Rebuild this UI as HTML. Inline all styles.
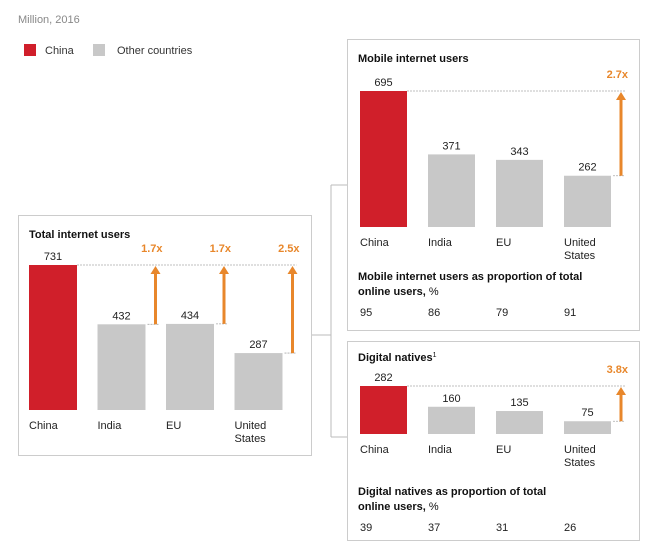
<!DOCTYPE html>
<html><head><meta charset="utf-8">
<style>
html,body{margin:0;padding:0;background:#fff;}
svg{display:block;font-family:"Liberation Sans",Arial,sans-serif;}
</style></head>
<body>
<svg id="c" width="656" height="548" viewBox="0 0 656 548" xmlns="http://www.w3.org/2000/svg">
<text x="18" y="23" font-size="11" fill="#888">Million, 2016</text>
<rect x="24" y="44" width="12" height="12" fill="#d01f2a"/>
<text x="45" y="54" font-size="11" fill="#333">China</text>
<rect x="93" y="44" width="12" height="12" fill="#c8c8c8"/>
<text x="117" y="54" font-size="11" fill="#333">Other countries</text>
<g fill="none" stroke="#bbb" stroke-width="1">
<path d="M311 335 H331 M331 185 V437 M331 185 H347 M331 437 H347"/>
</g>
</svg>
<script>
const categories = ["China","India","EU","United States"];
const totalValues = [731,432,434,287];
const totalMultipliers = ["","1.7x","1.7x","2.5x"];
const mobileValues = [695,371,343,262];
const mobileMultipliers = ["","","","2.7x"];
const mobileShares = [95,86,79,91];
const nativeValues = [282,160,135,75];
const nativeMultipliers = ["","","","3.8x"];
const nativeShares = [39,37,31,26];

const NS="http://www.w3.org/2000/svg";
const svg=document.getElementById('c');
function mk(tag,attrs,parent,text){
  const e=document.createElementNS(NS,tag);
  for(const k in attrs) e.setAttribute(k,attrs[k]);
  if(text!==undefined) e.textContent=text;
  (parent||svg).appendChild(e);
  return e;
}
function panel(o){
  const g=mk('g',{});
  
  
  const box=mk('rect',{x:o.x+0.5,y:o.y+0.5,width:o.w,height:o.h,fill:'#fff',stroke:'#ccc'},g);
  
  
  const t=mk('text',{x:o.x+11,y:o.titleY,'font-size':11,'font-weight':'bold',fill:'#111'},g,o.title);
  
  
  if(o.sup){mk('tspan',{'font-size':7,'font-weight':'normal',dy:-4},t,o.sup);}
  const yScale=v=>o.base-v*o.k;
  const xs=i=>o.x0+i*o.step;
  const arrowX=i=>xs(i)+o.bw+10;
  const maxTop=yScale(o.values[0]);
  const ref=mk('line',{x1:xs(0)+o.bw,x2:arrowX(o.values.length-1)+4,y1:maxTop,y2:maxTop,stroke:'#aaa','stroke-dasharray':'2,1','stroke-width':0.8},g);
  
  
  o.values.forEach((v,i)=>{
    const x=xs(i), top=yScale(v);
    const b=mk('rect',{x:x,y:top,width:o.bw,height:o.base-top,fill:i===0?'#d01f2a':'#c8c8c8'},g);
    
    
    const vl=mk('text',{x:x+o.bw/2,y:top-5,'font-size':11,'text-anchor':'middle',fill:'#222'},g,String(v));
    
    
    categories[i].split(' ').forEach((p,j)=>{
      const cl=mk('text',{x:x,y:o.base+19+j*13,'font-size':11,fill:'#222'},g,p);
      
      
    });
    if(o.mults[i]){
      const ax=arrowX(i);
      const ln=mk('line',{x1:x+o.bw+2,x2:ax+4,y1:top,y2:top,stroke:'#aaa','stroke-dasharray':'2,1','stroke-width':0.8},g);
      
      
      const a=mk('path',{d:`M${ax-1.5} ${top} V${maxTop+9} H${ax-5} L${ax} ${maxTop+1} L${ax+5} ${maxTop+9} H${ax+1.5} V${top} Z`,fill:'#e8872b'},g);
      
      
      const ml=mk('text',{x:ax+7,y:maxTop-13,'font-size':11,'font-weight':'bold','text-anchor':'end',fill:'#e8872b'},g,o.mults[i]);
      
      
    }
  });
  if(o.sub){
    const subs=[];
    o.sub.forEach((s,j)=>{
      const st=mk('text',{x:o.x+11,y:o.subY+j*15,'font-size':11,'font-weight':'bold',fill:'#111'},g,s);
      
      
      subs.push(st);
    });
    mk('tspan',{'font-weight':'normal'},subs[1],' %');
    o.shares.forEach((v,i)=>{
      const sv=mk('text',{x:xs(i),y:o.subY+36,'font-size':11,fill:'#222'},g,String(v));
      
      
    });
  }
}
panel({name:'total-users-panel',x:18,y:215,w:293,h:240,titleY:238,title:'Total internet users',
  values:totalValues,mults:totalMultipliers,base:410,k:145/731,x0:29,step:68.5,bw:48});
panel({name:'mobile-users-panel',x:347,y:39,w:292,h:291,titleY:62,title:'Mobile internet users',
  values:mobileValues,mults:mobileMultipliers,base:227,k:136/695,x0:360,step:68,bw:47,
  sub:['Mobile internet users as proportion of total','online users,'],subY:280,shares:mobileShares});
panel({name:'digital-natives-panel',x:347,y:341,w:292,h:199,titleY:361,title:'Digital natives',sup:'1',
  values:nativeValues,mults:nativeMultipliers,base:434,k:48/282,x0:360,step:68,bw:47,
  sub:['Digital natives as proportion of total','online users,'],subY:495,shares:nativeShares});
</script>
</body></html>
